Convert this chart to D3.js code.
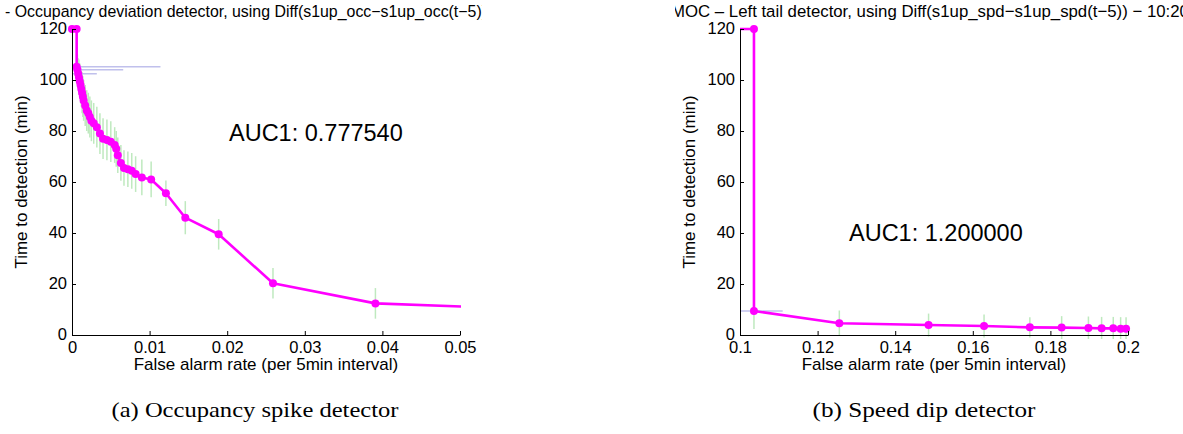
<!DOCTYPE html>
<html>
<head>
<meta charset="utf-8">
<script src="https://cdn.jsdelivr.net/npm/d3@7"></script>
<style>
  html, body { margin: 0; padding: 0; background: #fff; }
  svg text { font-family: "Liberation Sans", Arial, Helvetica, sans-serif; fill: #000; }
  svg text.caption { font-family: "Liberation Serif", "Times New Roman", serif; }
</style>
</head>
<body>
<svg id="fig" width="1183" height="434"></svg>
<script>
// ---- (a) Occupancy spike detector ----
const occRate = [0, 0.0006, 0.0006, 0.0007, 0.0008, 0.0009, 0.0010, 0.0011, 0.0012, 0.0013,
  0.0014, 0.0015, 0.0017, 0.0019, 0.0021, 0.0023, 0.0025, 0.0028, 0.0032, 0.0036,
  0.0040, 0.0045, 0.0050, 0.0055, 0.0057, 0.0059, 0.0063, 0.0067, 0.0072, 0.0077,
  0.0082, 0.0090, 0.0102, 0.0121, 0.0146, 0.0189, 0.0259, 0.0391, 0.0612];
const occTime = [120, 120, 105.2, 104, 102.5, 101, 99.5, 98, 96.5, 95,
  93.5, 92, 90, 88, 87, 85.5, 84, 83, 81.5, 79,
  77, 76.5, 75.8, 74.5, 73, 70.5, 67.5, 65.5, 65, 64.4,
  63.1, 61.8, 61, 55.6, 46, 39.5, 20.3, 12.4, 9.9];
const occTimeErr = [0, 0, 5, 6, 6, 7, 7, 7, 7, 8,
  8, 8, 8, 8, 8, 8, 8, 8, 8, 8,
  8, 8, 8, 7, 7, 7, 7, 7, 7, 7,
  7, 7, 7, 5, 6.5, 6, 6, 6, 6];
const occRateErr = [0, 0, 0.0108, 0.0059, 0.0024, 0, 0, 0, 0, 0,
  0, 0, 0, 0, 0, 0, 0, 0, 0, 0,
  0, 0, 0, 0, 0, 0, 0, 0, 0, 0,
  0, 0, 0, 0, 0, 0, 0, 0, 0];
const occTicksX = [0, 0.01, 0.02, 0.03, 0.04, 0.05];

// ---- (b) Speed dip detector ----
const spdRate = [0, 0.1036, 0.1036, 0.1256, 0.1486, 0.1629, 0.1747, 0.1829, 0.1898, 0.1932, 0.1962, 0.1981, 0.1995];
const spdTime = [120, 120, 9.4, 4.6, 3.9, 3.5, 3.0, 2.9, 2.75, 2.6, 2.6, 2.5, 2.5];
const spdTimeErr = [0, 0, 7, 5, 4.5, 4.5, 4, 4.5, 4.5, 4.5, 4.5, 4.5, 4.5];
const spdRateErr = [0, 0, 0.0074, 0, 0, 0, 0, 0, 0, 0, 0, 0, 0];
const spdTicksX = [0.1, 0.12, 0.14, 0.16, 0.18, 0.2];

const timeTicks = [0, 20, 40, 60, 80, 100, 120];

const panels = [
  {
    id: "a",
    rate: occRate, time: occTime, timeErr: occTimeErr, rateErr: occRateErr,
    xDomain: [0, 0.05], xTicks: occTicksX, xFormat: d => d === 0 ? "0" : String(d),
    left: 72, right: 460,
    title: "- Occupancy deviation detector, using Diff(s1up_occ\u2212s1up_occ(t\u22125))",
    titleX: 5, titleSize: 15.9, titleClip: [0, 482],
    auc: "AUC1: 0.777540", aucX: 229, aucY: 141,
    caption: "(a) Occupancy spike detector", captionX: 255, captionW: 287
  },
  {
    id: "b",
    rate: spdRate, time: spdTime, timeErr: spdTimeErr, rateErr: spdRateErr,
    xDomain: [0.1, 0.2], xTicks: spdTicksX, xFormat: d => String(+d.toFixed(2)),
    left: 740, right: 1128,
    title: "MOC \u2013 Left tail detector, using Diff(s1up_spd\u2212s1up_spd(t\u22125)) \u2212 10:20",
    titleX: 671, titleSize: 16.8, titleClip: [675, 1183],
    auc: "AUC1: 1.200000", aucX: 849, aucY: 241,
    caption: "(b) Speed dip detector", captionX: 924, captionW: 223
  }
];

const plotTop = 29, plotBottom = 335;
const svg = d3.select("#fig");
const defs = svg.append("defs");

panels.forEach(p => {
  const x = d3.scaleLinear().domain(p.xDomain).range([p.left, p.right]);
  const y = d3.scaleLinear().domain([0, 120]).range([plotBottom, plotTop]);
  const g = svg.append("g");

  // clip regions: plot area for lines, panel strip for the title
  defs.append("clipPath").attr("id", "plot-" + p.id)
    .append("rect").attr("x", p.left).attr("y", plotTop - 4)
    .attr("width", p.right - p.left + 1).attr("height", plotBottom - plotTop + 8);
  defs.append("clipPath").attr("id", "title-" + p.id)
    .append("rect").attr("x", p.titleClip[0]).attr("y", 0)
    .attr("width", p.titleClip[1] - p.titleClip[0]).attr("height", 25);

  const pts = p.rate.map((r, i) => ({ r, t: p.time[i], te: p.timeErr[i], re: p.rateErr[i] }));
  const inside = pts.filter(d => d.r >= p.xDomain[0] && d.r <= p.xDomain[1]);

  const plot = g.append("g").attr("clip-path", `url(#plot-${p.id})`);

  // vertical error bars (time to detection)
  plot.selectAll("line.terr").data(pts.filter(d => d.te > 0)).join("line")
    .attr("class", "terr")
    .attr("x1", d => x(d.r)).attr("x2", d => x(d.r))
    .attr("y1", d => y(d.t - d.te)).attr("y2", d => y(d.t + d.te))
    .attr("stroke", "#bfe9bf").attr("stroke-width", 1.5);

  // horizontal error bars (false alarm rate)
  plot.selectAll("line.rerr").data(pts.filter(d => d.re > 0)).join("line")
    .attr("class", "rerr")
    .attr("x1", d => x(d.r - d.re)).attr("x2", d => x(d.r + d.re))
    .attr("y1", d => y(d.t)).attr("y2", d => y(d.t))
    .attr("stroke", "#c0c0ec").attr("stroke-width", 1.5);

  // AMOC curve
  plot.append("path")
    .datum(pts)
    .attr("d", d3.line().x(d => x(d.r)).y(d => y(d.t)))
    .attr("fill", "none").attr("stroke", "#ff00ff")
    .attr("stroke-width", 2.6).attr("stroke-linejoin", "round");

  g.selectAll("circle.pt").data(inside).join("circle")
    .attr("class", "pt")
    .attr("cx", d => x(d.r)).attr("cy", d => y(d.t)).attr("r", 4)
    .attr("fill", "#ff00ff");

  // axes (ticks point inward)
  const xAxis = d3.axisBottom(x).tickValues(p.xTicks).tickFormat(p.xFormat)
    .tickSizeInner(-4).tickSizeOuter(0).tickPadding(6);
  const yAxis = d3.axisLeft(y).tickValues(timeTicks)
    .tickSizeInner(-4).tickSizeOuter(0).tickPadding(5);

  const gx = g.append("g").attr("transform", `translate(0,${plotBottom})`).call(xAxis);
  const gy = g.append("g").attr("transform", `translate(${p.left},0)`).call(yAxis);
  [gx, gy].forEach(a => {
    a.select(".domain").attr("stroke", "#000").attr("stroke-width", 1);
    a.selectAll(".tick line").attr("stroke", "#000");
    a.selectAll(".tick text").attr("font-size", 16.5)
      .attr("font-family", "Liberation Sans, Arial, sans-serif").attr("fill", "#000");
  });
  gy.selectAll(".tick text").attr("dy", "0.3em");

  // axis labels
  g.append("text")
    .attr("x", (p.left + p.right) / 2).attr("y", 370)
    .attr("text-anchor", "middle").attr("font-size", 17)
    .text("False alarm rate (per 5min interval)");
  g.append("text")
    .attr("transform", `translate(${p.left - 45},${(plotTop + plotBottom) / 2}) rotate(-90)`)
    .attr("text-anchor", "middle").attr("font-size", 17)
    .text("Time to detection (min)");

  // title
  g.append("g").attr("clip-path", `url(#title-${p.id})`)
    .append("text").attr("x", p.titleX).attr("y", 17)
    .attr("font-size", p.titleSize).text(p.title);

  // AUC annotation
  g.append("text").attr("x", p.aucX).attr("y", p.aucY)
    .attr("font-size", 23.5).text(p.auc);

  // sub-caption
  g.append("text").attr("class", "caption")
    .attr("x", p.captionX).attr("y", 417)
    .attr("text-anchor", "middle").attr("font-size", 21)
    .attr("textLength", p.captionW).attr("lengthAdjust", "spacingAndGlyphs")
    .text(p.caption);
});
</script>
</body>
</html>
